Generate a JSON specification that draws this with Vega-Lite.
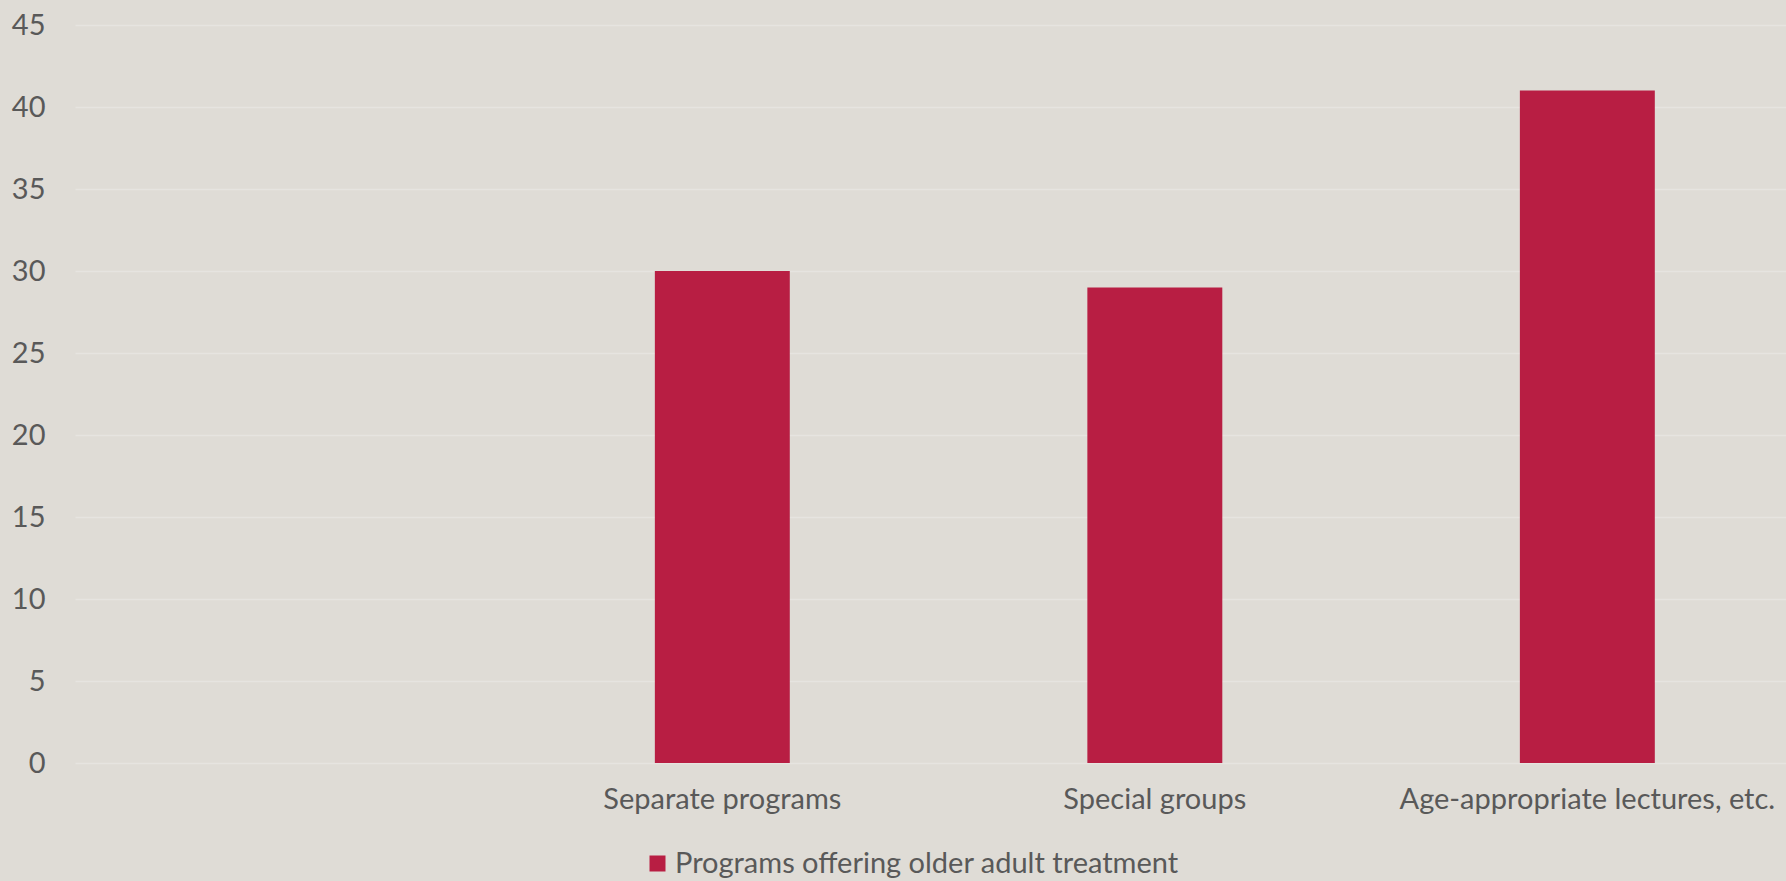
{
  "$schema": "https://vega.github.io/schema/vega-lite/v6.json",
  "width": 1711,
  "height": 738,
  "autosize": {"type": "none"},
  "padding": {"left": 75, "top": 25, "right": 0, "bottom": 118},
  "background": "#dfdcd6",
  "config": {
    "view": {"stroke": null},
    "font": "Lato",
    "axis": {"labelFont": "Lato", "labelColor": "#595959", "labelFontSize": 29, "labelFontWeight": "normal", "labelLimit": 0},
    "legend": {"labelFont": "Lato", "labelColor": "#595959", "labelFontSize": 29, "labelLimit": 0}
  },
  "data": {
    "values": [
      {"category": "Separate programs", "value": 30, "series": "Programs offering older adult treatment"},
      {"category": "Special groups", "value": 29, "series": "Programs offering older adult treatment"},
      {"category": "Age-appropriate lectures, etc.", "value": 41, "series": "Programs offering older adult treatment"}
    ]
  },
  "mark": {"type": "bar"},
  "encoding": {
    "x": {
      "field": "category",
      "type": "nominal",
      "sort": null,
      "scale": {
        "domain": [" ", "Separate programs", "Special groups", "Age-appropriate lectures, etc."],
        "paddingInner": 0.688,
        "paddingOuter": 0.322,
        "align": 0.529
      },
      "axis": {"title": null, "labelAngle": 0, "domain": false, "ticks": false, "labelPadding": 22, "grid": false}
    },
    "y": {
      "field": "value",
      "type": "quantitative",
      "scale": {"domain": [0, 45], "nice": false},
      "axis": {
        "title": null,
        "values": [0, 5, 10, 15, 20, 25, 30, 35, 40, 45],
        "domain": false,
        "ticks": false,
        "labelPadding": 30,
        "grid": true,
        "gridColor": "#e6e4e0",
        "gridWidth": 1.5
      }
    },
    "color": {
      "field": "series",
      "type": "nominal",
      "scale": {"range": ["#B81E43"]},
      "legend": {
        "title": null,
        "orient": "none",
        "legendX": 568,
        "legendY": 824,
        "direction": "horizontal",
        "symbolType": "square",
        "symbolSize": 256,
        "symbolStrokeWidth": 0,
        "labelOffset": 3
      }
    }
  }
}
